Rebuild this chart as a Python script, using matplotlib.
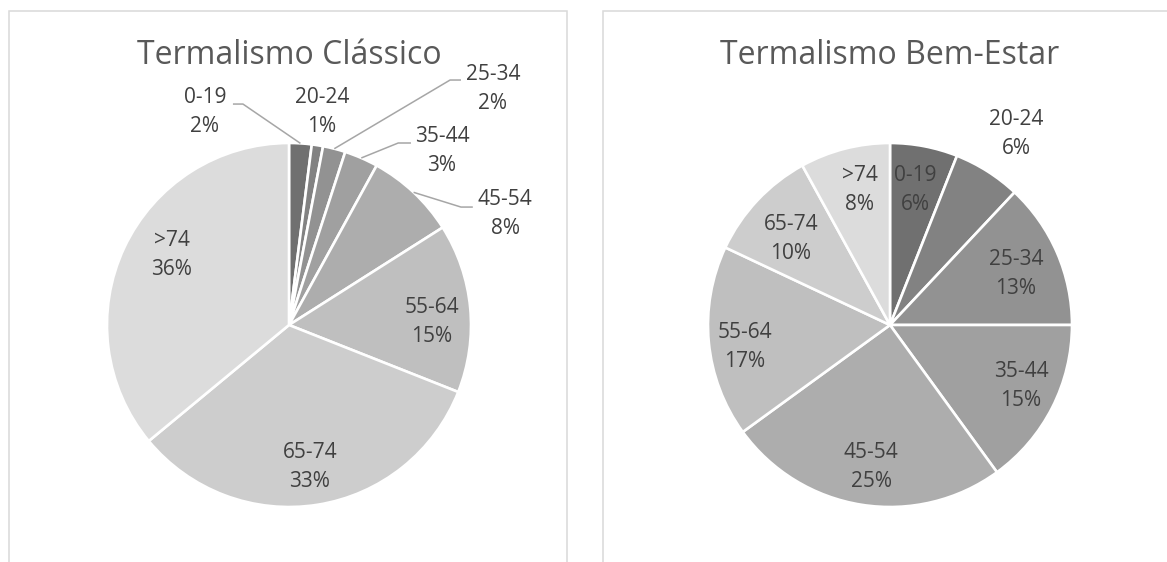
import matplotlib
matplotlib.use("Agg")
import matplotlib.pyplot as plt
from matplotlib.patches import Rectangle
import numpy as np

# ---------------- data ----------------
categories = ["0-19", "20-24", "25-34", "35-44", "45-54", "55-64", "65-74", ">74"]
classico_values = [2, 1, 2, 3, 8, 15, 33, 36]
bemestar_values = [6, 6, 13, 15, 25, 17, 10, 8]
title_classico = "Termalismo Clássico"
title_bemestar = "Termalismo Bem-Estar"

# ---------------- styles / layout ----------------
colors = ["#707070", "#828282", "#929292", "#a0a0a0", "#adadad",
          "#bfbfbf", "#cdcdcd", "#dcdcdc"]
text_color = "#404040"
title_color = "#595959"
FONT = ["Open Sans", "DejaVu Sans"]

W, H = 1167, 562
R = 182.0  # pie radius in px

# label positions (in pie-radius units, relative to centre)
lab_pos_c = [(-0.462, 1.17), (0.181, 1.17), (1.12, 1.297), (0.84, 0.956),
             (1.187, 0.61), (0.786, 0.016), (0.115, -0.78), (-0.643, 0.385)]
lab_pos_b = [(0.137, 0.742), (0.692, 1.049), (0.692, 0.28), (0.72, -0.335),
             (-0.104, -0.78), (-0.797, -0.121), (-0.544, 0.473), (-0.165, 0.742)]
# leader-line elbows for the classic chart: index -> ((x_label_end, x_elbow), y)
leaders_c = {0: ((-0.308, -0.253), 1.214),
             2: ((0.945, 0.885), 1.346),
             3: ((0.67, 0.60), 1.0),
             4: ((1.01, 0.945), 0.648)}

fig = plt.figure(figsize=(W / 100, H / 100), dpi=100)


def add_panel(x0, x1, cx, cy, values, title, lab_pos, leaders):
    ax = fig.add_axes([x0 / W, 0, (x1 - x0) / W, 1])
    wedges, _ = ax.pie(values, colors=colors, startangle=90, counterclock=False,
                       radius=1.0, center=(0, 0),
                       wedgeprops=dict(edgecolor="white", linewidth=1.9))
    ax.set_xlim((x0 - cx) / R, (x1 - cx) / R)
    ax.set_ylim((cy - H) / R, cy / R)
    ax.set_aspect("auto")
    ax.axis("off")
    total = float(sum(values))
    for i, (cat, v) in enumerate(zip(categories, values)):
        pct = int(round(100 * v / total))
        lx, ly = lab_pos[i]
        ax.text(lx, ly, f"{cat}\n{pct}%", ha="center", va="center",
                fontsize=15, color=text_color, family=FONT, linespacing=1.55)
    for i, ((xa, xb), y) in leaders.items():
        w = wedges[i]
        mid = np.deg2rad((w.theta1 + w.theta2) / 2)
        ex, ey = np.cos(mid) * 1.0, np.sin(mid) * 1.0
        ax.plot([xa, xb, ex], [y, y, ey], color="#a6a6a6", lw=1.1,
                solid_capstyle="butt", zorder=5)
    ax.text(0, (cy - 55) / R, title, ha="center", va="center",
            fontsize=23, color=title_color, family=FONT)
    return ax


add_panel(0, 583, 289, 325, classico_values, title_classico, lab_pos_c, leaders_c)
add_panel(583, 1167, 890, 325, bemestar_values, title_bemestar, lab_pos_b, {})

# panel borders
for (x0, x1) in [(8.5, 567), (603, 1175)]:
    rect = Rectangle((x0 / W, -0.05), (x1 - x0) / W, 1.05 - 11 / H,
                     transform=fig.transFigure, fill=False,
                     edgecolor="#d9d9d9", linewidth=1.1, zorder=0)
    fig.patches.append(rect)

fig.savefig("out.png", dpi=100, facecolor="white")
